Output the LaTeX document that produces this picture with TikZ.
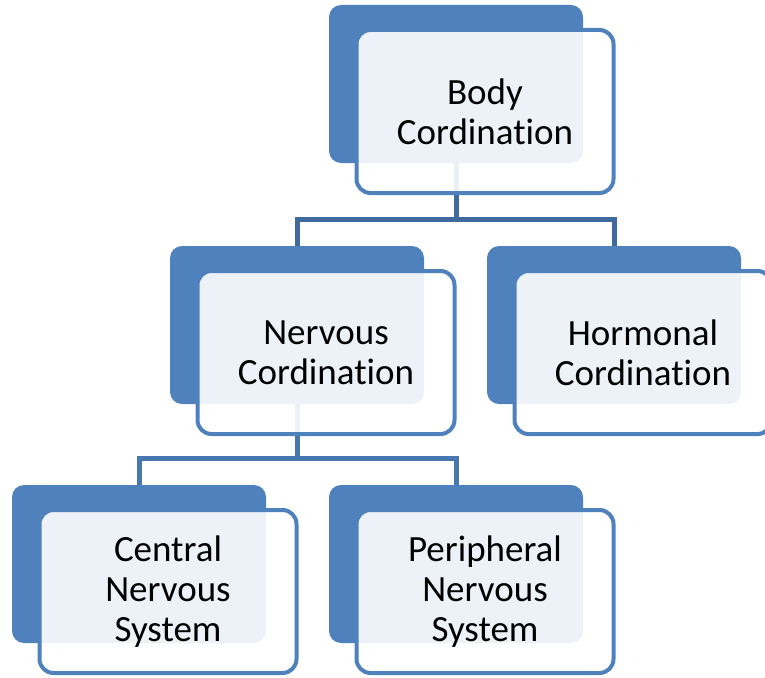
\documentclass[tikz,border=0pt]{standalone}
\usepackage{fontspec}
\setmainfont[Ligatures=NoCommon]{Carlito}
\usetikzlibrary{calc}
\definecolor{accent}{HTML}{4F81BD}
\definecolor{linkdark}{HTML}{3F6B9F}
\definecolor{linkmid}{HTML}{4877B0}
\tikzset{
  backbox/.style={fill=accent, draw=none, rounded corners=12pt,
    minimum width=254pt, minimum height=158pt, inner sep=0pt},
  frontbox/.style={fill=white, fill opacity=0.9, text opacity=1,
    draw=accent, line width=4pt, rounded corners=14pt,
    minimum width=257pt, minimum height=163pt, inner sep=0pt,
    align=center, font=\fontsize{37pt}{40pt}\selectfont},
  link/.style={line width=5pt, draw=linkdark},
  link2/.style={line width=5pt, draw=linkmid}
}
\begin{document}
\begin{tikzpicture}[x=1pt,y=-1pt]
\useasboundingbox (0,0) rectangle (765,677);
% anchor points for the back cards
\coordinate (bodyC) at (456,84);
\coordinate (nervC) at (297,325);
\coordinate (hormC) at (614,325);
\coordinate (centC) at (139,564);
\coordinate (periC) at (456,564);
% connectors, drawn first so the cards cover them
\coordinate (bar1) at (0,219);
\coordinate (bar2) at (0,458);
\draw[link] (bodyC |- 0,163) -- (bodyC |- bar1) -| (nervC |- 0,247);
\draw[link] (bodyC |- bar1) -| (hormC |- 0,247);
\draw[link2] (nervC |- 0,404) -- (nervC |- bar2) -| (centC |- 0,486);
\draw[link2] (nervC |- bar2) -| (periC |- 0,486);
% back cards
\node[backbox] (bodyB) at (bodyC) {};
\node[backbox] (nervB) at (nervC) {};
\node[backbox] (hormB) at (hormC) {};
\node[backbox] (centB) at (centC) {};
\node[backbox] (periB) at (periC) {};
% front cards with labels
\node[frontbox] (body) at ($(bodyC)+(29,27.5)$) {Body\\Cordination};
\node[frontbox] (nerv) at ($(nervC)+(29,27.5)$) {Nervous\\Cordination};
\node[frontbox] (horm) at ($(hormC)+(29,27.5)$) {Hormonal\\Cordination};
\node[frontbox] (cent) at ($(centC)+(29,27.5)$) {Central\\Nervous\\System};
\node[frontbox] (peri) at ($(periC)+(29,27.5)$) {Peripheral\\Nervous\\System};
\end{tikzpicture}
\end{document}
